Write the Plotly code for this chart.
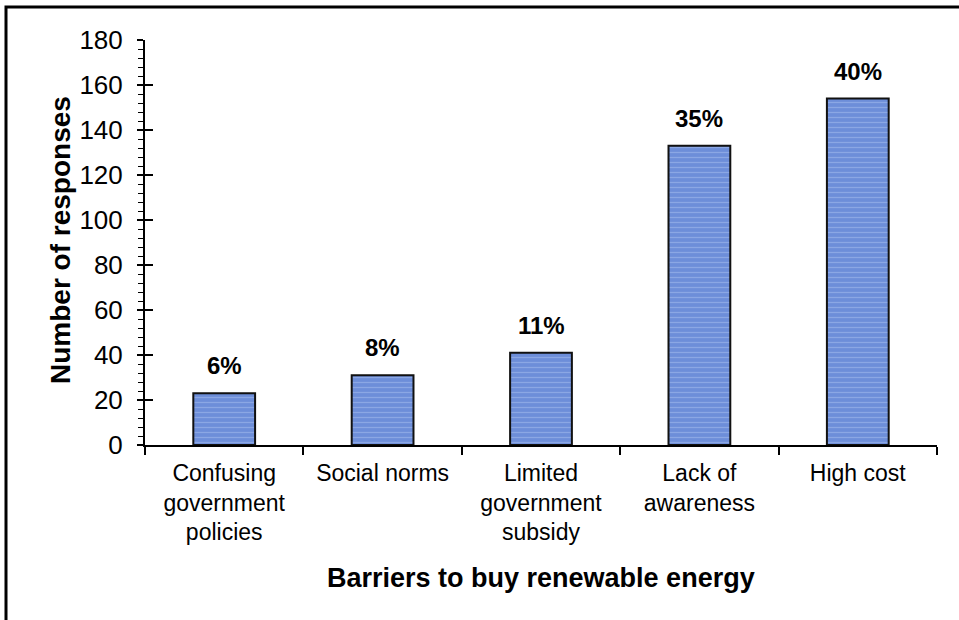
import plotly.graph_objects as go

# Survey results: barriers to buying renewable energy
categories = [
    "Confusing<br>government<br>policies",
    "Social norms",
    "Limited<br>government<br>subsidy",
    "Lack of<br>awareness",
    "High cost",
]
responses = [23, 31, 41, 133, 154]
share_labels = ["6%", "8%", "11%", "35%", "40%"]

y_ticks = [0, 20, 40, 60, 80, 100, 120, 140, 160, 180]

FONT = "Arial, Liberation Sans, sans-serif"

W, H = 959, 620
L, R, T, B = 145, 22, 40, 175
plot_w = W - L - R
plot_h = H - T - B

fig = go.Figure()

fig.add_trace(go.Bar(
    x=categories,
    y=responses,
    width=0.39,
    marker=dict(
        color="#6d8ed9",
        line=dict(color="#111111", width=2),
        pattern=dict(shape="-", fgcolor="#a9bff0", bgcolor="#6d8ed9",
                     size=5, solidity=0.25),
    ),
    showlegend=False,
    hoverinfo="x+y",
))

# invisible companion trace so the overlay axis (inner half of major ticks) is drawn
fig.add_trace(go.Scatter(
    x=[categories[0]], y=[0], yaxis="y2", mode="markers",
    marker=dict(opacity=0), showlegend=False, hoverinfo="skip",
))

# share labels above each bar
annotations = [
    dict(
        x=c, y=v, text=f"<b>{s}</b>", xref="x", yref="y",
        xanchor="center", yanchor="bottom", yshift=12, showarrow=False,
        font=dict(family=FONT, size=24, color="black"),
    )
    for c, v, s in zip(categories, responses, share_labels)
]

annotations += [
    dict(
        text="<b>Number of responses</b>", textangle=-90,
        xref="paper", yref="paper",
        x=(60 - L) / plot_w, y=(H - B - 240) / plot_h,
        xanchor="center", yanchor="middle", showarrow=False,
        font=dict(family=FONT, size=28, color="black"),
    ),
    dict(
        text="<b>Barriers to buy renewable energy</b>",
        xref="paper", yref="paper",
        x=0.5, y=(H - B - 578) / plot_h,
        xanchor="center", yanchor="middle", showarrow=False,
        font=dict(family=FONT, size=27, color="black"),
    ),
]

fig.update_layout(
    width=W, height=H,
    margin=dict(l=L, r=R, t=T, b=B),
    paper_bgcolor="white",
    plot_bgcolor="white",
    font=dict(family=FONT, color="black"),
    xaxis=dict(
        showline=True, linecolor="black", linewidth=2,
        ticks="outside", tickson="boundaries", ticklen=8, tickwidth=1.5,
        tickcolor="black", ticklabelstandoff=6,
        tickfont=dict(family=FONT, size=23, color="black"),
        showgrid=False, zeroline=False,
    ),
    yaxis=dict(
        range=[0, 180],
        tickvals=y_ticks,
        showline=True, linecolor="black", linewidth=2,
        ticks="outside", ticklen=6, tickwidth=1.5, tickcolor="black",
        ticklabelstandoff=9,
        tickfont=dict(family=FONT, size=26, color="black"),
        minor=dict(ticks="outside", dtick=4, ticklen=5, tickwidth=1,
                   tickcolor="black", showgrid=False),
        showgrid=False, zeroline=False,
    ),
    yaxis2=dict(
        range=[0, 180], overlaying="y", side="left",
        tickvals=y_ticks, ticks="inside", ticklen=8, tickwidth=1.5,
        tickcolor="black", showticklabels=False,
        showline=False, showgrid=False, zeroline=False,
    ),
    annotations=annotations,
    shapes=[
        dict(
            type="rect", xref="paper", yref="paper",
            x0=(6 - L) / plot_w, x1=(W + 10 - L) / plot_w,
            y0=(H - B - (H + 10)) / plot_h, y1=(H - B - 7) / plot_h,
            line=dict(color="black", width=3), fillcolor="rgba(0,0,0,0)",
            layer="above",
        ),
    ],
)

fig.write_html("out.html")
